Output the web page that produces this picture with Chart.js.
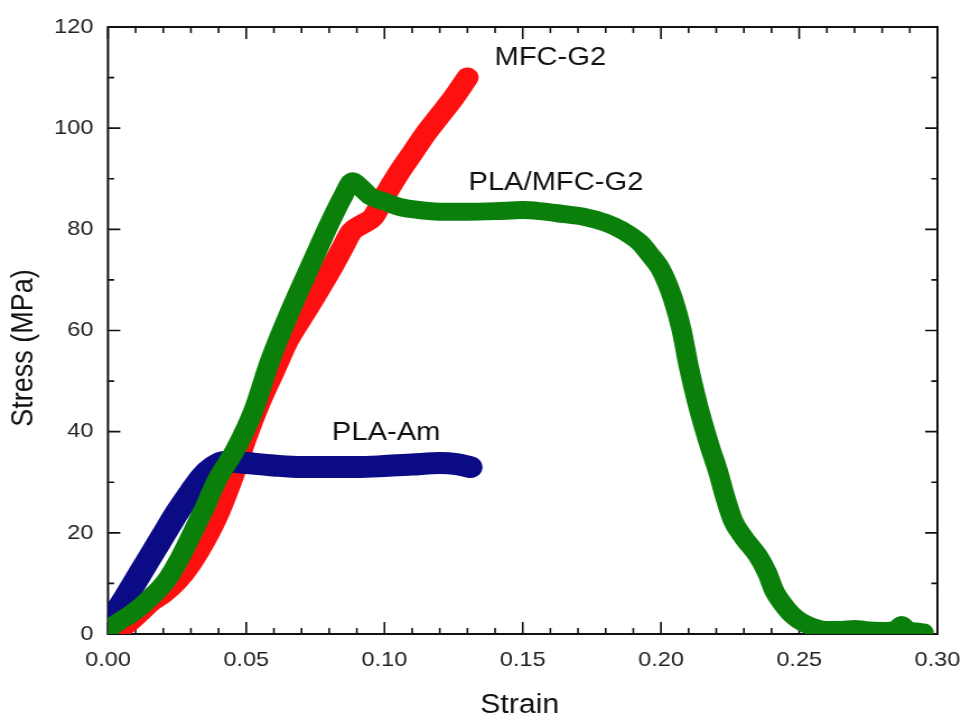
<!DOCTYPE html>
<html lang="en">
<head>
  <meta charset="UTF-8">
  <title>Stress-Strain Curves</title>
  <script src="https://cdn.jsdelivr.net/npm/chart.js"></script>
  <style>
    body {
      margin: 0;
      background: #fff;
      overflow: hidden;
    }
    /* the source picture is a little wider than tall, so stretch the canvas */
    #stressChart {
      transform: scaleX(1.12);
      transform-origin: 0 0;
    }
  </style>
</head>
<body>
  <canvas id="stressChart" width="859" height="720"></canvas>

  <script>
    // PLA-Am
    const plaAmStrain = [0, 0.005, 0.01, 0.015, 0.02, 0.025, 0.03, 0.034, 0.038, 0.042, 0.046, 0.05, 0.06, 0.07, 0.08, 0.09, 0.1, 0.11, 0.12, 0.126, 0.131];
    const plaAmStress = [2, 6, 10.5, 15, 19.5, 24, 28, 31, 33, 34, 34, 33.8, 33.3, 33, 33, 33, 33.2, 33.5, 33.8, 33.6, 33];

    // MFC-G2
    const mfcStrain = [0.003, 0.008, 0.012, 0.016, 0.02, 0.025, 0.03, 0.035, 0.04, 0.045, 0.05, 0.055, 0.06, 0.065, 0.07, 0.074, 0.08, 0.085, 0.088, 0.092, 0.096, 0.1, 0.105, 0.11, 0.115, 0.12, 0.125, 0.13];
    const mfcStress = [0.5, 2.5, 4.5, 6.5, 8, 10.5, 14, 18.5, 24, 31, 39, 46, 52, 58, 62.5, 66, 71.5, 76.5, 79.5, 81, 82.5, 86.5, 91, 95, 99, 102.5, 106, 110];

    // PLA/MFC-G2
    const blendStrain = [0, 0.005, 0.009, 0.015, 0.0213, 0.026, 0.031, 0.035, 0.0394, 0.046, 0.0525, 0.0586, 0.066, 0.0742, 0.08, 0.085, 0.0885, 0.091, 0.095, 0.1, 0.105, 0.11, 0.12, 0.13, 0.14, 0.15, 0.156, 0.165, 0.172, 0.18, 0.186, 0.1925, 0.196, 0.2, 0.2045, 0.2075, 0.21, 0.213, 0.2155, 0.218, 0.2205, 0.223, 0.226, 0.23, 0.235, 0.2385, 0.241, 0.244, 0.248, 0.2515, 0.256, 0.26, 0.265, 0.27, 0.275, 0.28, 0.285, 0.287, 0.289, 0.292, 0.295];
    const blendStress = [1, 2.8, 4.2, 7, 10.7, 15, 20.5, 25, 30.4, 36.4, 44, 54, 64, 74, 81, 86.5, 89.5, 88.5, 86.5, 85.5, 84.5, 84, 83.5, 83.5, 83.6, 83.8, 83.6, 83, 82.5, 81.3, 79.8, 77.3, 75, 72, 66, 60, 53, 46, 41, 36.5, 32.4, 27.5, 22.5, 19, 15.5, 12, 8.5, 6, 3.5, 2.2, 1.2, 0.8, 0.8, 1, 0.7, 0.6, 0.8, 1.8, 0.8, 0.5, 0.3];

    const xTicks = [0, 0.05, 0.1, 0.15, 0.2, 0.25, 0.3];
    const yTicks = [0, 20, 40, 60, 80, 100, 120];

    // curve labels, placed in data units
    const curveLabels = ['MFC-G2', 'PLA/MFC-G2', 'PLA-Am'];
    const labelStrain = [0.16, 0.162, 0.1006];
    const labelStress = [113.9, 89.2, 39.7];

    const FONT = "'Liberation Sans', Arial, sans-serif";

    function toPoints(xs, ys) {
      return xs.map((x, i) => ({ x: x, y: ys[i] }));
    }

    // frame with inward major/minor ticks on all four sides, plus text
    const framePlugin = {
      id: 'frame',
      beforeDatasetsDraw(chart) {
        const { ctx, chartArea: a, scales: { x, y } } = chart;
        ctx.save();
        ctx.strokeStyle = '#111';
        ctx.lineWidth = 2;
        ctx.strokeRect(a.left, a.top, a.right - a.left, a.bottom - a.top);
        ctx.lineWidth = 1.6;
        ctx.beginPath();
        for (let i = 0; i <= 30; i++) {
          const px = x.getPixelForValue(i / 100);
          const len = i % 5 === 0 ? 12 : 6;
          ctx.moveTo(px, a.bottom); ctx.lineTo(px, a.bottom - len);
          ctx.moveTo(px, a.top); ctx.lineTo(px, a.top + len);
        }
        for (let i = 0; i <= 12; i++) {
          const py = y.getPixelForValue(i * 10);
          const len = i % 2 === 0 ? 11 : 5.5;
          ctx.moveTo(a.left, py); ctx.lineTo(a.left + len, py);
          ctx.moveTo(a.right, py); ctx.lineTo(a.right - len, py);
        }
        ctx.stroke();
        ctx.restore();
      },
      afterDraw(chart) {
        const { ctx, scales: { x, y } } = chart;
        ctx.save();
        ctx.fillStyle = '#111';
        ctx.textAlign = 'center';
        ctx.textBaseline = 'middle';
        ctx.font = '26px ' + FONT;
        curveLabels.forEach((t, i) => {
          ctx.fillText(t, x.getPixelForValue(labelStrain[i]), y.getPixelForValue(labelStress[i]));
        });
        // axis titles
        ctx.font = '27px ' + FONT;
        ctx.fillText('Strain', 464, 706);
        ctx.translate(22, 348);
        ctx.rotate(-Math.PI / 2);
        ctx.fillText('Stress (MPa)', 0, 0);
        ctx.restore();
      }
    };

    const ctx = document.getElementById('stressChart').getContext('2d');
    const stressChart = new Chart(ctx, {
      type: 'scatter',
      data: {
        datasets: [
          {
            label: 'PLA/MFC-G2',
            data: toPoints(blendStrain, blendStress),
            borderColor: '#0a800a',
            borderWidth: 18,
            order: 0
          },
          {
            label: 'PLA-Am',
            data: toPoints(plaAmStrain, plaAmStress),
            borderColor: '#0b0b86',
            borderWidth: 22,
            order: 1
          },
          {
            label: 'MFC-G2',
            data: toPoints(mfcStrain, mfcStress),
            borderColor: '#ff1010',
            borderWidth: 20,
            order: 2
          }
        ]
      },
      options: {
        responsive: false,
        animation: false,
        devicePixelRatio: 1,
        layout: { padding: { top: 27, right: 22, left: 0, bottom: 0 } },
        datasets: {
          scatter: {
            showLine: true,
            pointRadius: 0,
            pointHoverRadius: 0,
            cubicInterpolationMode: 'monotone',
            borderCapStyle: 'round',
            borderJoinStyle: 'round',
            clip: 0
          }
        },
        plugins: {
          legend: { display: false },
          tooltip: { enabled: false }
        },
        scales: {
          x: {
            type: 'linear',
            min: 0,
            max: 0.3,
            afterFit: s => { s.height = 86; s.paddingLeft = 0; s.paddingRight = 0; },
            afterBuildTicks: s => { s.ticks = xTicks.map(v => ({ value: v })); },
            grid: { display: false, drawTicks: false },
            border: { display: false },
            ticks: {
              color: '#222',
              padding: 14,
              maxRotation: 0,
              font: { family: FONT, size: 21 },
              callback: v => v.toFixed(2)
            }
          },
          y: {
            type: 'linear',
            min: 0,
            max: 120,
            afterFit: s => { s.width = 96.4; s.paddingTop = 0; s.paddingBottom = 0; },
            afterBuildTicks: s => { s.ticks = yTicks.map(v => ({ value: v })); },
            grid: { display: false, drawTicks: false },
            border: { display: false },
            ticks: {
              color: '#222',
              padding: 13,
              font: { family: FONT, size: 21 }
            }
          }
        }
      },
      plugins: [framePlugin]
    });
  </script>
</body>
</html>
